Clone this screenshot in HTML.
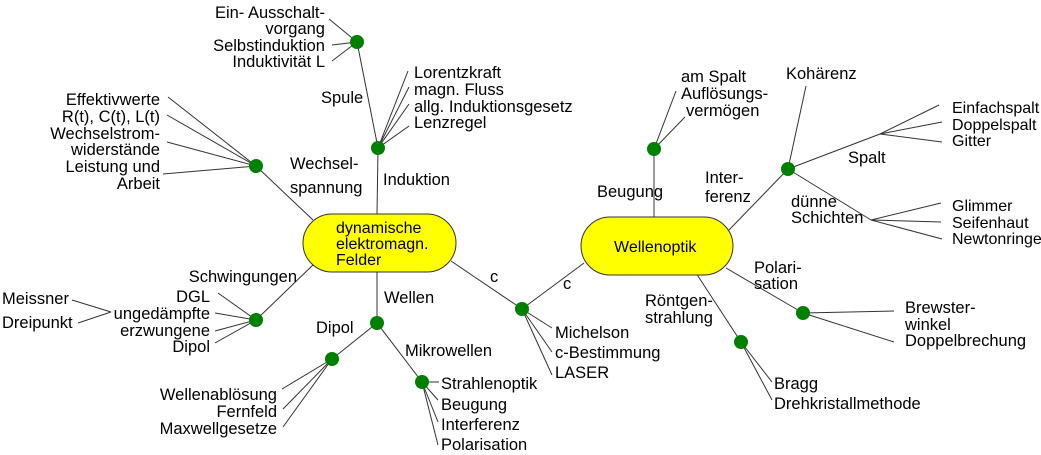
<!DOCTYPE html>
<html><head><meta charset="utf-8"><style>
html,body{margin:0;padding:0;background:#fff;}
svg{display:block;}
text{font-family:"Liberation Sans",sans-serif;font-size:16.5px;fill:#000;}
text.n{font-size:16px;}
.e{text-anchor:end;}
line,polyline{stroke:#333;stroke-width:1;fill:none;}
</style></head><body>
<svg width="1041" height="455" viewBox="0 0 1041 455" xmlns="http://www.w3.org/2000/svg">
<!-- connectors left cluster -->
<line x1="377" y1="214" x2="378" y2="148"/>
<line x1="378" y1="148" x2="357" y2="42"/>
<line x1="357" y1="42" x2="329" y2="19"/>
<line x1="357" y1="42" x2="332" y2="45"/>
<line x1="357" y1="42" x2="332" y2="61"/>
<line x1="378" y1="148" x2="408" y2="71"/>
<line x1="378" y1="148" x2="409" y2="87"/>
<line x1="378" y1="148" x2="409" y2="104"/>
<line x1="378" y1="148" x2="409" y2="126"/>
<line x1="256" y1="166" x2="313" y2="220"/>
<line x1="256" y1="166" x2="168" y2="97"/>
<line x1="256" y1="166" x2="167" y2="115"/>
<line x1="256" y1="166" x2="167" y2="142"/>
<line x1="256" y1="166" x2="163" y2="174"/>
<line x1="256" y1="320" x2="315" y2="263"/>
<line x1="256" y1="320" x2="218" y2="293"/>
<line x1="256" y1="320" x2="215" y2="313"/>
<line x1="256" y1="320" x2="215" y2="331"/>
<line x1="256" y1="320" x2="215" y2="343"/>
<line x1="72" y1="300" x2="111" y2="312"/>
<line x1="78" y1="323" x2="111" y2="312"/>
<line x1="377" y1="272" x2="377" y2="323"/>
<line x1="377" y1="323" x2="332" y2="359"/>
<line x1="332" y1="359" x2="282" y2="389"/>
<line x1="332" y1="359" x2="283" y2="409"/>
<line x1="332" y1="359" x2="283" y2="427"/>
<line x1="377" y1="323" x2="422" y2="382"/>
<line x1="422" y1="382" x2="439" y2="382"/>
<line x1="422" y1="382" x2="438" y2="400"/>
<line x1="422" y1="382" x2="438" y2="422"/>
<line x1="422" y1="382" x2="438" y2="445"/>
<line x1="451" y1="261" x2="522" y2="309"/>
<line x1="522" y1="309" x2="584" y2="263"/>
<line x1="522" y1="309" x2="552" y2="328"/>
<line x1="522" y1="309" x2="552" y2="352"/>
<line x1="522" y1="309" x2="552" y2="375"/>
<!-- right cluster -->
<line x1="654" y1="217" x2="654" y2="149" style="stroke:#666;stroke-width:1.3"/>
<line x1="654" y1="149" x2="676" y2="91"/>
<line x1="654" y1="149" x2="685" y2="117"/>
<line x1="729" y1="230" x2="788" y2="169"/>
<line x1="788" y1="169" x2="806" y2="86"/>
<line x1="788" y1="169" x2="880" y2="134"/>
<line x1="880" y1="134" x2="939" y2="105"/>
<line x1="880" y1="134" x2="942" y2="122"/>
<line x1="880" y1="134" x2="942" y2="142"/>
<line x1="788" y1="169" x2="871" y2="220"/>
<line x1="871" y1="220" x2="941" y2="203"/>
<line x1="871" y1="220" x2="941" y2="222"/>
<line x1="871" y1="220" x2="942" y2="239"/>
<line x1="726" y1="268" x2="803" y2="313"/>
<line x1="803" y1="313" x2="894" y2="311"/>
<line x1="803" y1="313" x2="894" y2="342"/>
<line x1="696" y1="273" x2="741" y2="342"/>
<line x1="741" y1="342" x2="772" y2="382"/>
<line x1="741" y1="342" x2="772" y2="400"/>

<!-- main nodes -->
<rect x="303" y="214" width="153" height="58" rx="29" ry="29" fill="#ffff00" stroke="#333" stroke-width="1"/>
<rect x="581" y="217" width="152" height="58" rx="29" ry="29" fill="#ffff00" stroke="#333" stroke-width="1"/>
<text class="n" x="336" y="233">dynamische</text>
<text class="n" x="336" y="249">elektromagn.</text>
<text class="n" x="336" y="265">Felder</text>
<text class="n" x="614" y="252">Wellenoptik</text>

<!-- dots -->
<g fill="#008000">
<circle cx="357" cy="42" r="7"/>
<circle cx="378" cy="148" r="7"/>
<circle cx="256" cy="166" r="7"/>
<circle cx="256" cy="320" r="7"/>
<circle cx="377" cy="323" r="7"/>
<circle cx="332" cy="359" r="7"/>
<circle cx="422" cy="382" r="7"/>
<circle cx="522" cy="309" r="7"/>
<circle cx="654" cy="149" r="7"/>
<circle cx="788" cy="169" r="7"/>
<circle cx="803" cy="313" r="7"/>
<circle cx="741" cy="342" r="7"/>
</g>

<!-- labels left cluster -->
<text class="e" x="325" y="18">Ein- Ausschalt-</text>
<text class="e" x="325" y="34">vorgang</text>
<text class="e" x="325" y="51">Selbstinduktion</text>
<text class="e" x="325" y="67">Induktivität L</text>
<text x="321" y="103">Spule</text>
<text x="414" y="78">Lorentzkraft</text>
<text x="414" y="95">magn. Fluss</text>
<text x="414" y="112">allg. Induktionsgesetz</text>
<text x="414" y="128">Lenzregel</text>
<text x="383" y="185">Induktion</text>
<text x="290" y="169">Wechsel-</text>
<text x="290" y="193">spannung</text>
<text class="e" x="160" y="105">Effektivwerte</text>
<text class="e" x="160" y="122">R(t), C(t), L(t)</text>
<text class="e" x="160" y="139">Wechselstrom-</text>
<text class="e" x="160" y="155">widerstände</text>
<text class="e" x="160" y="172">Leistung und</text>
<text class="e" x="160" y="189">Arbeit</text>
<text class="e" x="297" y="282">Schwingungen</text>
<text class="e" x="210" y="302">DGL</text>
<text class="e" x="210" y="319">ungedämpfte</text>
<text class="e" x="210" y="336">erzwungene</text>
<text class="e" x="210" y="352">Dipol</text>
<text x="2" y="304">Meissner</text>
<text x="2" y="328">Dreipunkt</text>
<text x="384" y="303">Wellen</text>
<text x="316" y="333">Dipol</text>
<text class="e" x="277" y="400">Wellenablösung</text>
<text class="e" x="277" y="417">Fernfeld</text>
<text class="e" x="277" y="434">Maxwellgesetze</text>
<text x="405" y="356">Mikrowellen</text>
<text x="441" y="389">Strahlenoptik</text>
<text x="441" y="410">Beugung</text>
<text x="441" y="430">Interferenz</text>
<text x="441" y="450">Polarisation</text>
<text x="490" y="282">c</text>
<text x="563" y="289">c</text>
<text x="555" y="338">Michelson</text>
<text x="555" y="358">c-Bestimmung</text>
<text x="555" y="378">LASER</text>

<!-- labels right cluster -->
<text x="597" y="197">Beugung</text>
<text x="681" y="82">am Spalt</text>
<text x="681" y="99">Auflösungs-</text>
<text x="686" y="116">vermögen</text>
<text x="705" y="183">Inter-</text>
<text x="705" y="202">ferenz</text>
<text x="786" y="79">Kohärenz</text>
<text x="848" y="163">Spalt</text>
<text class="n" x="952" y="113">Einfachspalt</text>
<text class="n" x="952" y="130">Doppelspalt</text>
<text class="n" x="952" y="146">Gitter</text>
<text x="791" y="207">dünne</text>
<text x="791" y="223">Schichten</text>
<text class="n" x="952" y="211">Glimmer</text>
<text class="n" x="952" y="228">Seifenhaut</text>
<text class="n" x="952" y="244">Newtonringe</text>
<text x="754" y="273">Polari-</text>
<text x="754" y="289">sation</text>
<text x="905" y="313">Brewster-</text>
<text x="905" y="330">winkel</text>
<text x="905" y="346">Doppelbrechung</text>
<text x="645" y="306">Röntgen-</text>
<text x="645" y="323">strahlung</text>
<text x="774" y="389">Bragg</text>
<text x="774" y="409">Drehkristallmethode</text>
</svg>
</body></html>
